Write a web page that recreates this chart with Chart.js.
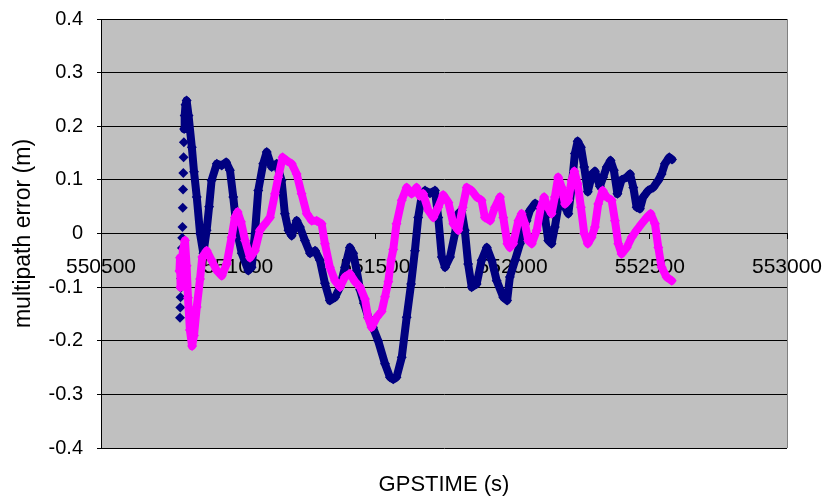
<!DOCTYPE html>
<html lang="en">
<head>
    <meta charset="UTF-8">
    <title>multipath error</title>
    <script src="https://cdn.jsdelivr.net/npm/chart.js"></script>
    <style>
      body { margin: 0; background: #ffffff; }
    </style>
</head>
<body>
  <canvas id="chart0" width="823" height="496"></canvas>

  <script>
    /* GPS time (s) and multipath error (m), first receiver (navy). */
    const timeA = [
      550788, 550789, 550790, 550791, 550792, 550793, 550794, 550795, 550796, 550797,
      550798, 550799, 550800, 550801, 550802, 550803, 550805, 550808, 550812, 550819,
      550831, 550839, 550849, 550861, 550873, 550885, 550894, 550903, 550922, 550940,
      550956, 550970, 550982, 550995, 551013, 551037, 551049, 551061, 551073, 551091,
      551104, 551122, 551140, 551158, 551170, 551183, 551195, 551213, 551225, 551243,
      551262, 551280, 551298, 551316, 551334, 551353, 551371, 551389, 551407, 551419,
      551432, 551444, 551458, 551474, 551491, 551510, 551535, 551553, 551565, 551577,
      551596, 551614, 551630, 551644, 551656, 551669, 551681, 551699, 551717, 551729,
      551742, 551754, 551772, 551790, 551802, 551814, 551826, 551838, 551851, 551869,
      551887, 551906, 551924, 551942, 551966, 551980, 551990, 552009, 552027, 552039,
      552051, 552063, 552082, 552100, 552118, 552130, 552142, 552154, 552166, 552179,
      552191, 552203, 552215, 552227, 552237, 552249, 552261, 552274, 552290, 552300,
      552318, 552330, 552343, 552357, 552369, 552382, 552397, 552416, 552428, 552440,
      552452, 552464, 552476, 552494, 552513, 552531, 552543, 552555, 552571, 552581
    ]
    const errA = [
      -0.157, -0.138, -0.119, -0.101, -0.084, -0.065, -0.046, -0.027, -0.008, 0.012,
      0.048, 0.082, 0.113, 0.142, 0.170, 0.195, 0.22, 0.24, 0.248, 0.22,
      0.161, 0.115, 0.068, 0.0, -0.037, 0.006, 0.05, 0.099, 0.13, 0.127,
      0.133, 0.118, 0.068, 0.006, -0.037, -0.069, -0.063, 0.0, 0.08, 0.13,
      0.152, 0.124, 0.13, 0.099, 0.037, 0.006, -0.004, 0.024, 0.012, -0.013,
      -0.037, -0.032, -0.05, -0.093, -0.125, -0.119, -0.1, -0.063, -0.026, -0.037,
      -0.07, -0.105, -0.13, -0.156, -0.175, -0.2, -0.243, -0.268, -0.272, -0.268,
      -0.231, -0.156, -0.094, -0.032, 0.03, 0.07, 0.08, 0.075, 0.08, 0.03,
      -0.044, -0.063, -0.044, 0.0, 0.037, 0.043, 0.006, -0.057, -0.1, -0.094,
      -0.05, -0.026, -0.05, -0.088, -0.119, -0.125, -0.081, -0.05, -0.019, 0.006,
      0.024, 0.043, 0.056, 0.049, 0.03, -0.013, -0.019, 0.012, 0.049, 0.068,
      0.049, 0.037, 0.086, 0.149, 0.172, 0.161, 0.124, 0.078, 0.111, 0.116,
      0.088, 0.105, 0.124, 0.136, 0.118, 0.074, 0.1, 0.105, 0.111, 0.086,
      0.049, 0.046, 0.068, 0.08, 0.086, 0.099, 0.111, 0.13, 0.142, 0.138
    ]

    /* GPS time (s) and multipath error (m), second receiver (magenta). */
    const timeB = [
      550786, 550788, 550790, 550793, 550799, 550806, 550812, 550817, 550824, 550832,
      550839, 550849, 550861, 550869, 550885, 550903, 550922, 550940, 550958, 550976,
      550988, 550998, 551010, 551025, 551043, 551061, 551079, 551098, 551116, 551134,
      551146, 551162, 551177, 551195, 551213, 551231, 551250, 551268, 551286, 551304,
      551316, 551334, 551353, 551371, 551389, 551407, 551426, 551444, 551462, 551474,
      551486, 551505, 551523, 551535, 551547, 551557, 551565, 551577, 551596, 551614,
      551632, 551650, 551662, 551674, 551693, 551711, 551729, 551747, 551766, 551784,
      551802, 551818, 551833, 551851, 551869, 551887, 551899, 551918, 551936, 551954,
      551966, 551981, 551990, 552002, 552021, 552033, 552045, 552057, 552070, 552088,
      552103, 552115, 552128, 552142, 552154, 552166, 552179, 552191, 552203, 552215,
      552225, 552237, 552249, 552261, 552274, 552288, 552300, 552312, 552328, 552343,
      552361, 552373, 552385, 552397, 552416, 552434, 552452, 552470, 552489, 552503,
      552519, 552531, 552543, 552561, 552580
    ]
    const errB = [
      -0.07, -0.045, -0.1, -0.06, -0.03, -0.013, -0.06, -0.12, -0.18, -0.21,
      -0.19, -0.137, -0.085, -0.044, -0.032, -0.05, -0.069, -0.079, -0.057, -0.007,
      0.03, 0.04, 0.022, -0.013, -0.045, -0.032, 0.006, 0.018, 0.03, 0.074,
      0.105, 0.142, 0.136, 0.13, 0.111, 0.074, 0.037, 0.024, 0.024, 0.018,
      -0.019, -0.063, -0.088, -0.1, -0.081, -0.075, -0.09, -0.1, -0.122, -0.158,
      -0.175, -0.156, -0.145, -0.118, -0.09, -0.05, -0.03, 0.018, 0.062, 0.086,
      0.074, 0.086, 0.07, 0.074, 0.043, 0.03, 0.049, 0.072, 0.058, 0.018,
      0.006, 0.049, 0.086, 0.08, 0.068, 0.062, 0.03, 0.024, 0.049, 0.068,
      0.03, -0.019, -0.026, -0.019, 0.024, 0.037, 0.018, -0.013, -0.019, 0.006,
      0.049, 0.068, 0.049, 0.037, 0.068, 0.105, 0.086, 0.055, 0.062, 0.099,
      0.116, 0.093, 0.049, 0.0, -0.019, -0.007, 0.012, 0.055, 0.08, 0.068,
      0.062, 0.024, -0.019, -0.038, -0.026, -0.007, 0.006, 0.018, 0.03, 0.037,
      0.018, -0.026, -0.063, -0.081, -0.088
    ]

    /* Axis ranges. */
    const xTicks = [550500, 551000, 551500, 552000, 552500, 553000]
    const yTicks = [-0.4, -0.3, -0.2, -0.1, 0, 0.1, 0.2, 0.3, 0.4]

    const toPoints = (xs, ys) => xs.map((x, i) => ({ x: x, y: ys[i] }))

    /* Labels may hang over the plot edges; the layout padding handles that. */
    const noOverhang = s => {
      s.paddingLeft = 0
      s.paddingRight = 0
      s.paddingTop = 0
      s.paddingBottom = 0
    }

    /* Grey plot area with a thin grey frame on the right. */
    const plotArea = {
      id: "plotArea",
      beforeDraw: chart => {
        const { ctx, chartArea: a } = chart
        ctx.save()
        ctx.fillStyle = "#c0c0c0"
        ctx.fillRect(a.left, a.top, a.right - a.left, a.bottom - a.top)
        ctx.strokeStyle = "#808080"
        ctx.lineWidth = 1
        ctx.beginPath()
        ctx.moveTo(a.right + 0.5, a.top)
        ctx.lineTo(a.right + 0.5, a.bottom)
        ctx.stroke()
        ctx.restore()
      }
    }

    const font = "'Liberation Sans', Arial, sans-serif"

    /* Shared look of both series: dense diamonds over a thick band. */
    const seriesStyle = color => ({
      showLine: true,
      borderColor: color,
      backgroundColor: color,
      borderWidth: 8,
      borderJoinStyle: "round",
      borderCapStyle: "round",
      pointStyle: "rectRot",
      pointRadius: 5,
      pointBorderWidth: 0
    })

    const ctx0 = document.getElementById("chart0").getContext("2d")
    const myChart0 = new Chart(ctx0, {
      type: "scatter",
      data: {
        datasets: [{
          label: "Series1",
          data: toPoints(timeA, errA),
          order: 2,
          ...seriesStyle("#000080"),
          /* the fast rise at the start is sampled sparsely: points only */
          segment: {
            borderColor: c => c.p0DataIndex < 15 ? "rgba(0,0,0,0)" : undefined
          }
        }, {
          label: "Series2",
          data: toPoints(timeB, errB),
          order: 1,
          ...seriesStyle("#ff00ff")
        }]
      },
      options: {
        responsive: false,
        animation: false,
        devicePixelRatio: 1,
        layout: { padding: { top: 19, right: 36, left: 0, bottom: 0 } },
        scales: {
          x: {
            type: "linear",
            position: { y: 0 },
            min: xTicks[0],
            max: xTicks[xTicks.length - 1],
            afterBuildTicks: s => { s.ticks = xTicks.map(v => ({ value: v })) },
            afterFit: noOverhang,
            ticks: {
              callback: v => String(v),
              font: { family: font, size: 21 },
              color: "#000",
              padding: 16,
              maxRotation: 0,
              autoSkip: false
            },
            grid: { drawOnChartArea: false, drawTicks: true, tickLength: 5, color: "#000" },
            border: { display: true, color: "#000", width: 1 }
          },
          y: {
            min: yTicks[0],
            max: yTicks[yTicks.length - 1],
            afterBuildTicks: s => { s.ticks = yTicks.map(v => ({ value: v })) },
            afterFit: s => { s.width = 101; noOverhang(s) },
            ticks: {
              callback: v => String(Math.round(v * 10) / 10),
              font: { family: font, size: 20 },
              color: "#000",
              padding: 14
            },
            grid: { color: "#000", lineWidth: 1, tickLength: 4 },
            border: { display: true, color: "#000", width: 1 },
            title: {
              display: true,
              text: "multipath error (m)",
              font: { family: font, size: 23 },
              color: "#000",
              padding: { top: 10, bottom: 0 }
            }
          }
        },
        plugins: {
          legend: { display: false },
          tooltip: { enabled: false },
          title: {
            display: true,
            fullSize: false,
            position: "bottom",
            text: "GPSTIME (s)",
            font: { family: font, size: 22, weight: "normal", lineHeight: 1 },
            color: "#000",
            padding: { top: 26, bottom: 0 }
          }
        }
      },
      plugins: [plotArea]
    })
  </script>
</body>
</html>
